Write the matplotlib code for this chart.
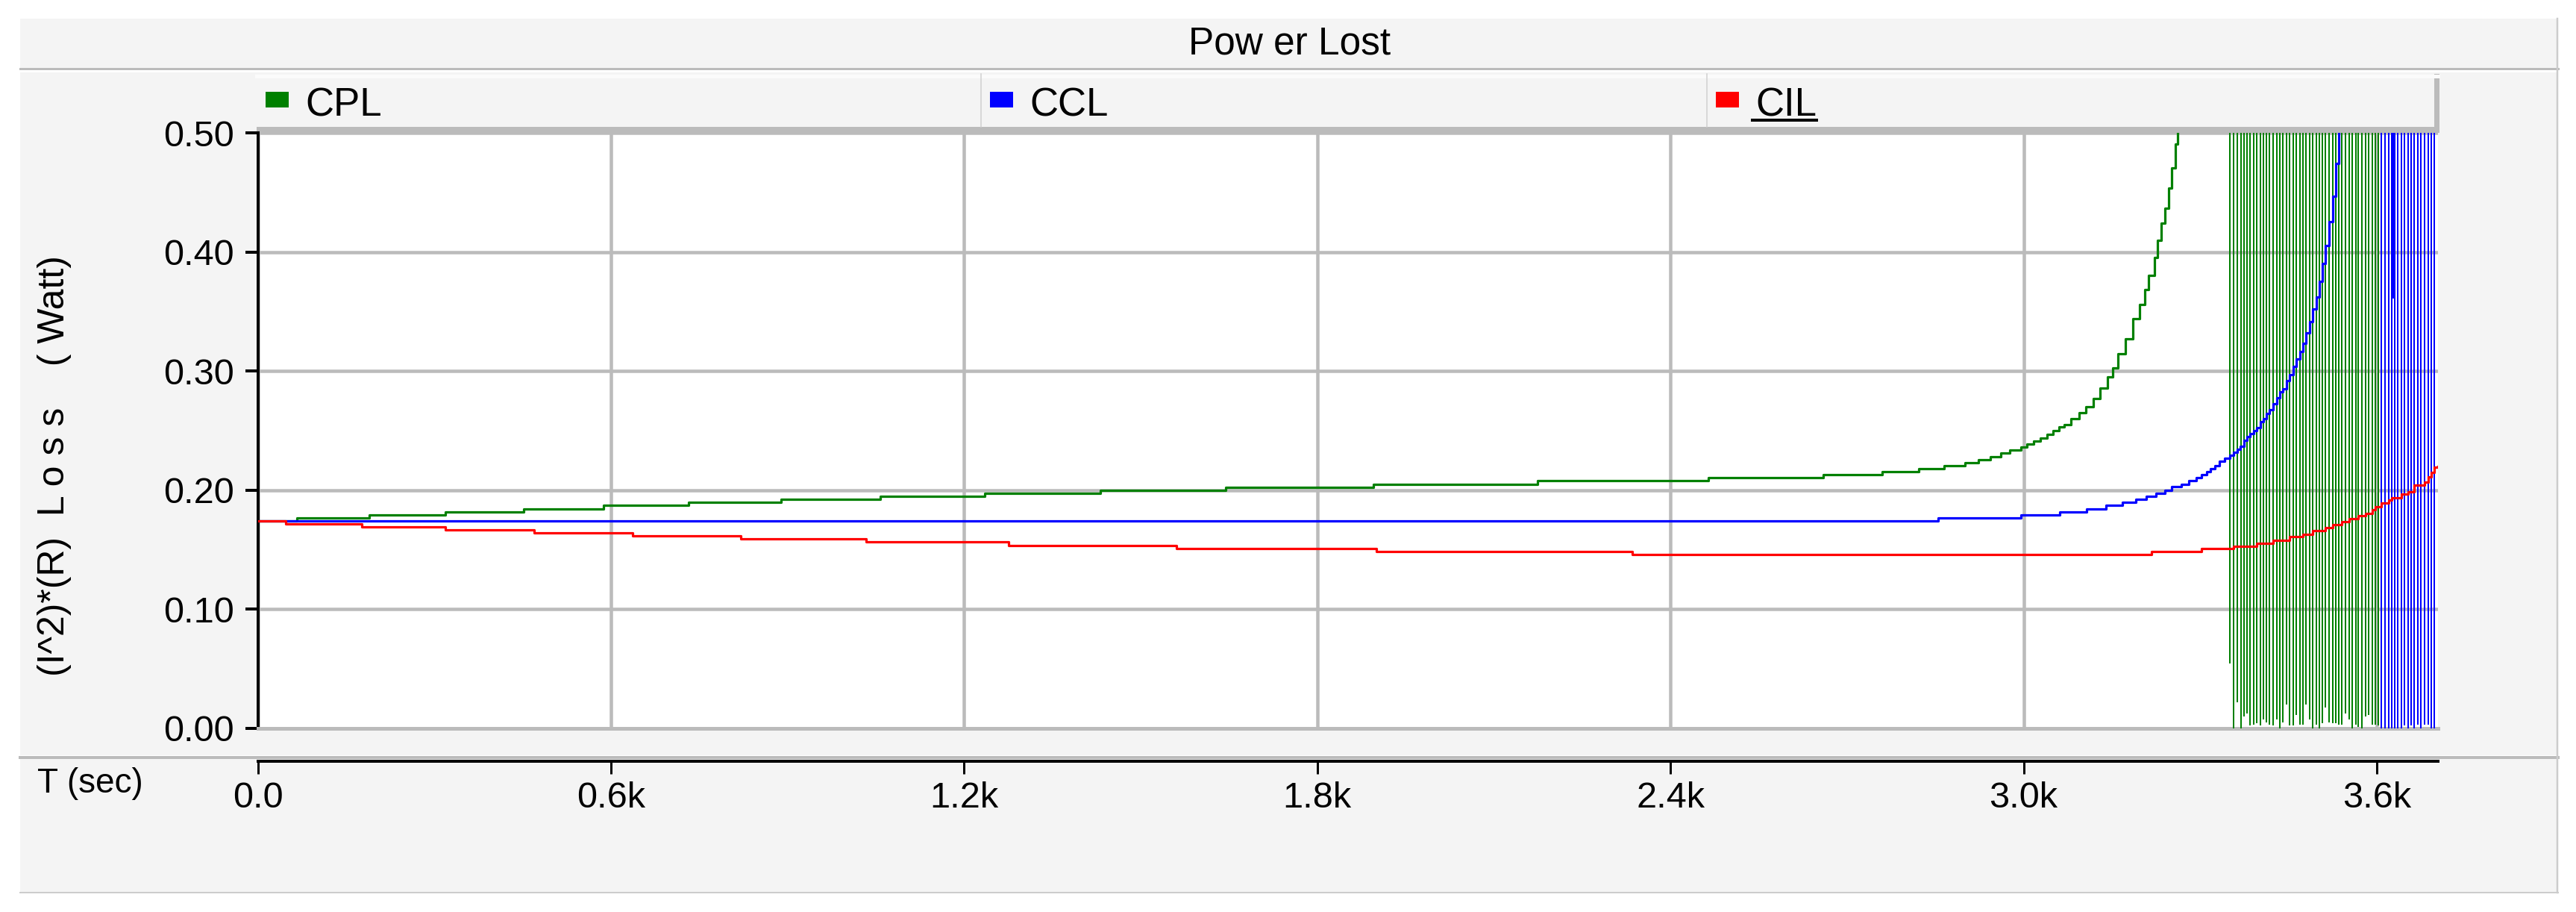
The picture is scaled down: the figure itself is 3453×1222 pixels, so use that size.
import matplotlib
matplotlib.use('Agg')  # no display
import matplotlib.pyplot as plt
from matplotlib.patches import Rectangle

plt.rcParams['font.family'] = ['Liberation Sans', 'DejaVu Sans']

# ============ data ============ #
series_names = ['CPL', 'CCL', 'CIL']
series_colors = ['#008000', '#0000ff', '#ff0000']

x_ticks = [0, 600, 1200, 1800, 2400, 3000, 3600]
x_labels = ['0.0', '0.6k', '1.2k', '1.8k', '2.4k', '3.0k', '3.6k']
y_ticks = [0.0, 0.1, 0.2, 0.3, 0.4, 0.5]

# CPL (green) step breakpoints: time (s), loss (W)
cpl_t = [0, 67, 189, 319, 452, 587, 732, 889, 1057, 1235, 1431, 1644, 1895,
         2174, 2464, 2659, 2760, 2822, 2865, 2900, 2923, 2944, 2961, 2977,
         2995, 3006, 3017, 3028, 3040, 3050, 3060, 3069, 3081, 3094, 3106,
         3118, 3130, 3142, 3151, 3160, 3173, 3185, 3197, 3206, 3212, 3222,
         3228, 3234, 3240, 3246, 3252, 3258, 3262]
cpl_v = [0.1742, 0.1765, 0.1792, 0.1818, 0.1843, 0.1870, 0.1897, 0.1922,
         0.1947, 0.1973, 0.1998, 0.2025, 0.2050, 0.2076, 0.2101, 0.2126,
         0.2155, 0.2180, 0.2205, 0.2230, 0.2256, 0.2281, 0.2308, 0.2334,
         0.2359, 0.2384, 0.2409, 0.2438, 0.2465, 0.2500, 0.2530, 0.2551,
         0.2600, 0.2649, 0.2698, 0.2766, 0.2853, 0.2951, 0.3024, 0.3146,
         0.3268, 0.3439, 0.3561, 0.3684, 0.3805, 0.3951, 0.4098, 0.4244,
         0.4367, 0.4537, 0.4708, 0.4903, 0.56]

# CCL (blue)
ccl_t = [0, 2855, 2995, 3061, 3107, 3140, 3168, 3191, 3208, 3225, 3240, 3252,
         3268, 3281, 3293, 3302, 3311, 3318, 3325, 3333, 3341, 3351, 3357,
         3363, 3368, 3374, 3380, 3385, 3391, 3396, 3402, 3407, 3413, 3418,
         3424, 3430, 3435, 3441, 3447, 3452, 3458, 3463, 3469, 3475, 3480,
         3486, 3491, 3497, 3502, 3508, 3513, 3519, 3525, 3530, 3536]
ccl_v = [0.1742, 0.1767, 0.1792, 0.1818, 0.1843, 0.1872, 0.1899, 0.1922,
         0.1950, 0.1975, 0.2000, 0.2027, 0.2050, 0.2076, 0.2103, 0.2128,
         0.2155, 0.2180, 0.2207, 0.2244, 0.2267, 0.2294, 0.2320, 0.2343,
         0.2370, 0.2416, 0.2449, 0.2475, 0.2498, 0.2521, 0.2574, 0.2600,
         0.2640, 0.2673, 0.2723, 0.2772, 0.2822, 0.2848, 0.2921, 0.2970,
         0.3036, 0.3102, 0.3162, 0.3234, 0.3317, 0.3416, 0.3521, 0.3620,
         0.3752, 0.3904, 0.4053, 0.4257, 0.4465, 0.4743, 0.56]

# CIL (red)
cil_t = [0, 48, 177, 319, 469, 637, 821, 1033, 1275, 1561, 1900, 2335, 3217,
         3302, 3357, 3396, 3424, 3452, 3475, 3491, 3513, 3525, 3541, 3553,
         3569, 3581, 3592, 3597, 3608, 3620, 3625, 3642, 3653, 3664, 3681,
         3687, 3692, 3698, 3704]
cil_v = [0.1742, 0.1717, 0.1690, 0.1665, 0.1640, 0.1614, 0.1589, 0.1564,
         0.1535, 0.1510, 0.1484, 0.1457, 0.1484, 0.1510, 0.1525, 0.1551,
         0.1578, 0.1607, 0.1630, 0.1657, 0.1683, 0.1706, 0.1733, 0.1756,
         0.1782, 0.1805, 0.1832, 0.1861, 0.1888, 0.1914, 0.1937, 0.1964,
         0.1987, 0.2040, 0.2069, 0.2112, 0.2145, 0.2191, 0.2195]

# unstable region: drops from off-scale down to these minima
cpl_drop_t = [3351, 3357, 3363, 3369, 3374, 3380, 3385, 3391, 3396, 3402,
              3407, 3413, 3418, 3424, 3430, 3435, 3441, 3447, 3452, 3458,
              3463, 3469, 3475, 3480, 3486, 3491, 3497, 3502, 3508, 3513,
              3519, 3525, 3530, 3536, 3541, 3547, 3553, 3558, 3564, 3569,
              3575, 3581, 3586, 3592, 3597, 3602]
cpl_drop_v = [0.054, 0.0, 0.022, 0.0, 0.010, 0.012, 0.002, 0.003, 0.004,
              0.002, 0.007, 0.005, 0.003, 0.002, 0.007, 0.0, 0.005, 0.020,
              0.002, 0.002, 0.011, 0.003, 0.003, 0.020, 0.007, 0.0, 0.003,
              0.0, 0.004, 0.017, 0.005, 0.004, 0.004, 0.003, 0.003, 0.012,
              0.007, 0.0, 0.003, 0.001, 0.0, 0.010, 0.011, 0.003, 0.003, 0.002]
ccl_drop_t = [3608, 3614, 3620, 3625, 3628, 3630, 3636, 3642, 3647, 3653,
              3658, 3664, 3670, 3675, 3681, 3687, 3692, 3698]
ccl_drop_v = [0.0, 0.0, 0.0, 0.0, 0.361, 0.0, 0.0, 0.0, 0.002, 0.0, 0.002,
              0.0, 0.003, 0.0, 0.003, 0.003, 0.0, 0.0]
OFF_SCALE = 0.56

# ============ layout helpers (pixels of the 3453x1222 output) ============ #
W, H, DPI = 3453, 1222, 100
PT = 72 / DPI  # points per pixel


def px_box(x0, y0, x1, y1):
    return [x0 / W, 1 - y1 / H, (x1 - x0) / W, (y1 - y0) / H]


PANEL = '#f4f4f4'
EDGE = '#bbbbbb'
PLOT_L, PLOT_R, PLOT_T, PLOT_B = 345.6, 3268, 178, 975.6
X_MAX = 3704
STEP_LW = 3.2 * PT
DROP_LW = 2.0 * PT

fig = plt.figure(figsize=(W / DPI, H / DPI), dpi=DPI)
fig.patch.set_facecolor('white')

# background frame drawn in pixel coordinates
bg = fig.add_axes([0, 0, 1, 1])
bg.set_xlim(0, W)
bg.set_ylim(H, 0)
bg.axis('off')
bg.add_patch(Rectangle((27, 25), 3401, 67, color=PANEL, lw=0))
bg.add_patch(Rectangle((27, 97), 3401, 915, color=PANEL, lw=0))
bg.add_patch(Rectangle((27, 1017), 3401, 179, color=PANEL, lw=0))
bg.plot([27, 3429], [92, 92], color=EDGE, lw=3 * PT)
bg.plot([27, 3429], [1014.5, 1014.5], color=EDGE, lw=4 * PT)
bg.plot([27, 3429], [1196, 1196], color='#cccccc', lw=2 * PT)
bg.plot([3428, 3428], [25, 1196], color='#cccccc', lw=2.5 * PT)

# legend strip: three equal compartments above the plot
slot_edges = [344, 1315, 2288, 3268]
bg.plot([344, 3268], [101.5, 101.5], color='#fbfbfb', lw=5 * PT)
bg.add_patch(Rectangle((344, 170), 2926, 8, color=EDGE, lw=0))
bg.add_patch(Rectangle((3263, 99), 7, 79, color=EDGE, lw=0))
for sx in slot_edges[1:3]:
    bg.plot([sx, sx], [99, 170], color='#d0d0d0', lw=1.5 * PT)
legend_texts = []
for i, (name, color) in enumerate(zip(series_names, series_colors)):
    x0 = slot_edges[i]
    bg.add_patch(Rectangle((x0 + 12, 123), 31, 21, color=color, lw=0))
    legend_texts.append(bg.text(x0 + 65, 156, name, fontsize=38, ha='left',
                                va='baseline'))

bg.text(1729, 59, 'Pow er Lost', fontsize=37, ha='center', va='center')
bg.text(73, 624, '(I^2)*(R)  L o s s    ( Watt)', fontsize=36, rotation=90,
        ha='center', va='center')
bg.text(50, 1050, 'T (sec)', fontsize=33, ha='left', va='center')

# ============ main plot ============ #
ax = fig.add_axes(px_box(PLOT_L, PLOT_T, PLOT_R, PLOT_B))
ax.set_facecolor('white')
ax.set_xlim(0, X_MAX)
ax.set_ylim(0, 0.5)

ax.step(cpl_t, cpl_v, where='post', color=series_colors[0], lw=STEP_LW, zorder=3)
ax.vlines(cpl_drop_t, cpl_drop_v, OFF_SCALE, color=series_colors[0], lw=DROP_LW, zorder=3)
ax.step(ccl_t, ccl_v, where='post', color=series_colors[1], lw=STEP_LW, zorder=4)
ax.vlines(ccl_drop_t, ccl_drop_v, OFF_SCALE, color=series_colors[1], lw=DROP_LW, zorder=4)
ax.step(cil_t, cil_v, where='post', color=series_colors[2], lw=STEP_LW, zorder=5)

ax.set_xticks(x_ticks)
ax.set_yticks(y_ticks)
ax.set_yticklabels([f'{v:.2f}' for v in y_ticks])
ax.tick_params(axis='x', length=0, labelbottom=False)
ax.tick_params(axis='y', direction='out', length=17 * PT, width=4 * PT,
               pad=15 * PT, labelsize=35, color='black')
ax.grid(True, color=EDGE, lw=4.5 * PT)
ax.set_axisbelow(True)
ax.spines['top'].set_visible(False)
ax.spines['right'].set_visible(False)
ax.spines['bottom'].set_color(EDGE)
ax.spines['bottom'].set_linewidth(5 * PT)
ax.spines['left'].set_color('black')
ax.spines['left'].set_linewidth(4 * PT)

# ============ separate time axis strip ============ #
xa = fig.add_axes(px_box(PLOT_L, 1019, PLOT_R, 1020))
xa.set_facecolor('none')
xa.set_xlim(0, X_MAX)
xa.set_yticks([])
for side in ['top', 'right', 'left']:
    xa.spines[side].set_visible(False)
xa.spines['bottom'].set_color('black')
xa.spines['bottom'].set_linewidth(4 * PT)
xa.set_xticks(x_ticks)
xa.set_xticklabels(x_labels)
xa.tick_params(axis='x', direction='out', length=17 * PT, width=3 * PT,
               pad=10 * PT, labelsize=35)

# underline under the last legend label
fig.canvas.draw()
renderer = fig.canvas.get_renderer()
bb = legend_texts[2].get_window_extent(renderer)
inv = bg.transData.inverted()
(ux0, _), (ux1, _) = inv.transform([[bb.x0, bb.y0], [bb.x1, bb.y1]])
bg.plot([ux0 - 4, ux1], [161, 161], color='black', lw=4 * PT)

fig.savefig('out.png', dpi=DPI)
plt.close(fig)
